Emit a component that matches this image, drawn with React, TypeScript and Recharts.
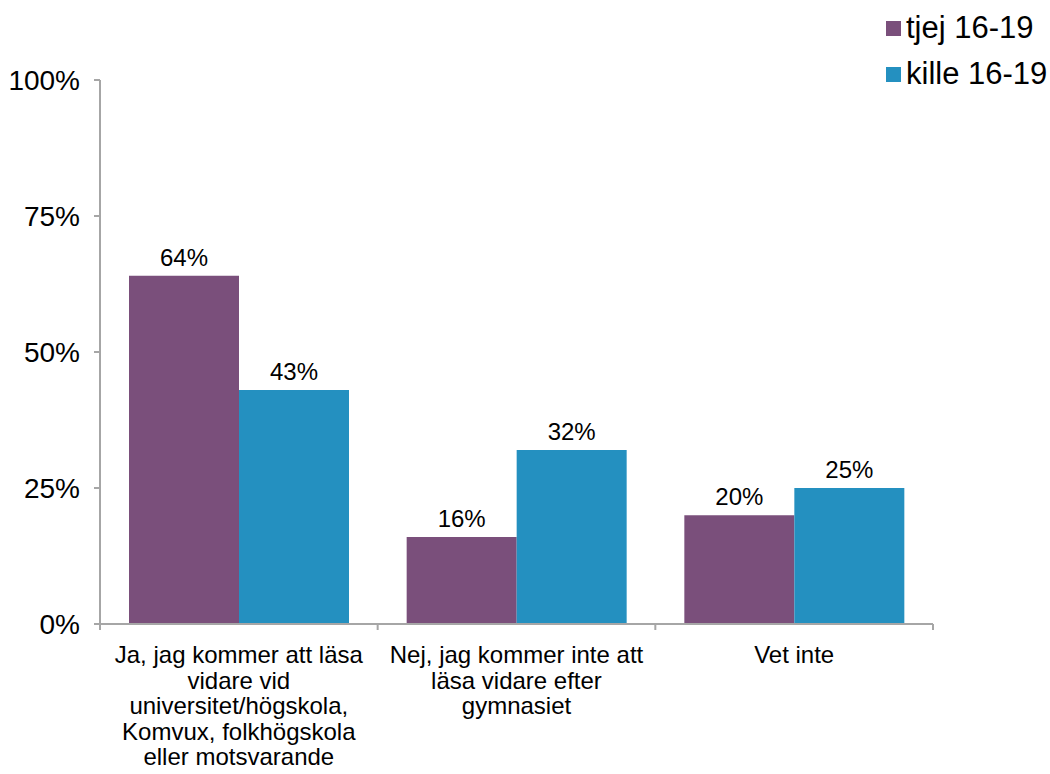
import React from "react";
import { BarChart, Bar, XAxis, YAxis, LabelList } from "recharts";

const categories = [
  "Ja, jag kommer att läsa vidare vid universitet/högskola, Komvux, folkhögskola eller motsvarande",
  "Nej, jag kommer inte att läsa vidare efter gymnasiet",
  "Vet inte",
];
const categoryLines = [
  ["Ja, jag kommer att läsa", "vidare vid", "universitet/högskola,", "Komvux, folkhögskola", "eller motsvarande"],
  ["Nej, jag kommer inte att", "läsa vidare efter", "gymnasiet"],
  ["Vet inte"],
];
const tjej = [64, 16, 20];
const kille = [43, 32, 25];
const yTicks = [0, 25, 50, 75, 100];

const PURPLE = "#7A4F7B";
const BLUE = "#2490C0";
const AXIS = "#A6A6A6";
const FONT = "'Liberation Sans', Arial, sans-serif";

const W = 1050;
const H = 774;
const PLOT_LEFT = 100;
const PLOT_RIGHT = 933;
const catWidth = (PLOT_RIGHT - PLOT_LEFT) / categories.length;

const data = categories.map((c, i) => ({ name: c, idx: i, tjej: tjej[i], kille: kille[i] }));

const CategoryTick = (props: any) => {
  const { x, y, payload, index } = props;
  const lines = categoryLines[payload.index ?? index] || [];
  const left = x - catWidth / 2;
  return (
    <g>
      <line x1={left} y1={y - 8} x2={left} y2={y - 2} stroke={AXIS} strokeWidth={2} />
      {index === categories.length - 1 && (
        <line x1={left + catWidth} y1={y - 8} x2={left + catWidth} y2={y - 2} stroke={AXIS} strokeWidth={2} />
      )}
      <text x={x} y={y + 31} textAnchor="middle" fontSize={24} fill="#000" fontFamily={FONT}>
        {lines.map((l, i) => (
          <tspan key={i} x={x} dy={i === 0 ? 0 : 25.5}>
            {l}
          </tspan>
        ))}
      </text>
    </g>
  );
};

const legendItems = [
  { label: "tjej 16-19", color: PURPLE },
  { label: "kille 16-19", color: BLUE },
];

export default function App() {
  return (
    <div style={{ position: "absolute", left: 0, top: 0, width: W, height: H, background: "#fff" }}>
      <BarChart
        width={W}
        height={H}
        data={data}
        margin={{ top: 80, right: W - PLOT_RIGHT, bottom: 0, left: 0 }}
        barCategoryGap="10%"
        barGap={0}
        barSize={110}
      >
        <XAxis
          dataKey="name"
          axisLine={{ stroke: AXIS, strokeWidth: 2 }}
          tickLine={false}
          tick={<CategoryTick />}
          interval={0}
          height={150}
        />
        <YAxis
          type="number"
          domain={[0, 100]}
          ticks={yTicks}
          width={PLOT_LEFT}
          axisLine={{ stroke: AXIS, strokeWidth: 2 }}
          tickLine={{ stroke: AXIS, strokeWidth: 2 }}
          tickSize={6}
          tickMargin={14}
          tickFormatter={(v: number) => `${v}%`}
          tick={{ fontSize: 28, fill: "#000", fontFamily: FONT }}
        />
        <Bar dataKey="tjej" fill={PURPLE} isAnimationActive={false}>
          <LabelList
            dataKey="tjej"
            position="top"
            offset={10}
            formatter={(v: any) => `${v}%`}
            style={{ fontSize: 24, fill: "#000", fontFamily: FONT }}
          />
        </Bar>
        <Bar dataKey="kille" fill={BLUE} isAnimationActive={false}>
          <LabelList
            dataKey="kille"
            position="top"
            offset={10}
            formatter={(v: any) => `${v}%`}
            style={{ fontSize: 24, fill: "#000", fontFamily: FONT }}
          />
        </Bar>
      </BarChart>
      <div style={{ position: "absolute", left: 886, top: 5, fontFamily: FONT, fontSize: 31, color: "#000" }}>
        {legendItems.map((it) => (
          <div key={it.label} style={{ display: "flex", alignItems: "center", height: 46 }}>
            <span style={{ display: "inline-block", width: 15, height: 15, background: it.color, marginRight: 5 }} />
            <span>{it.label}</span>
          </div>
        ))}
      </div>
    </div>
  );
}
